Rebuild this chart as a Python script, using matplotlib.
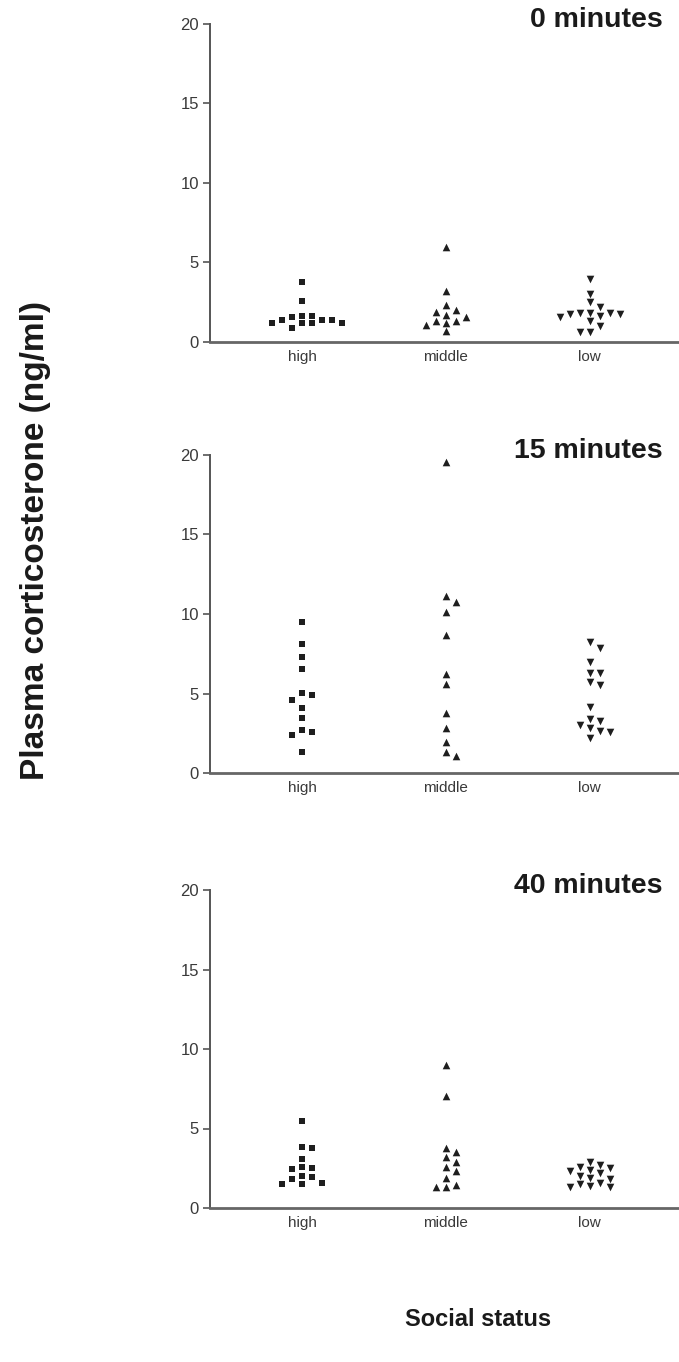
import matplotlib.pyplot as plt
import numpy as np

plt.rcParams['font.family'] = ['Liberation Sans', 'DejaVu Sans']

# Data
groups = ['high', 'middle', 'low']
markers = ['s', '^', 'v']
panel_titles = ['0 minutes', '15 minutes', '40 minutes']

high_0 = [3.75, 2.55, 1.65, 1.65, 1.55, 1.4, 1.4, 1.4, 1.17, 1.17, 1.17, 1.17, 0.9]
middle_0 = [5.95, 3.2, 2.3, 2.0, 1.9, 1.7, 1.55, 1.3, 1.3, 1.2, 1.1, 0.7]
low_0 = [3.95, 3.0, 2.5, 2.2, 1.85, 1.85, 1.85, 1.75, 1.75, 1.65, 1.6, 1.35, 1.0, 0.6, 0.6]

high_15 = [9.5, 8.1, 7.3, 6.55, 5.05, 4.9, 4.6, 4.1, 3.45, 2.7, 2.55, 2.4, 1.3]
middle_15 = [19.55, 11.15, 10.75, 10.1, 8.7, 6.25, 5.6, 3.8, 2.8, 1.95, 1.3, 1.1]
low_15 = [8.25, 7.85, 7.0, 6.3, 6.3, 5.7, 5.55, 4.15, 3.4, 3.3, 3.0, 2.85, 2.65, 2.6, 2.2]

high_40 = [5.45, 3.85, 3.75, 3.1, 2.6, 2.5, 2.45, 2.0, 1.95, 1.85, 1.55, 1.5, 1.5]
middle_40 = [9.0, 7.05, 3.75, 3.5, 3.2, 2.9, 2.55, 2.3, 1.9, 1.45, 1.35, 1.3]
low_40 = [2.9, 2.7, 2.6, 2.5, 2.4, 2.3, 2.2, 2.0, 1.9, 1.8, 1.6, 1.5, 1.4, 1.3, 1.3]

panels = [[high_0, middle_0, low_0],
          [high_15, middle_15, low_15],
          [high_40, middle_40, low_40]]


def column_offsets(values, px_per_y, px_per_x, step=10.0, height=7.5):
    # simple column scatter: spread points sideways when they would overlap
    order = np.argsort(values)[::-1]
    placed = []
    offs = np.zeros(len(values))
    for i in order:
        y = values[i] * px_per_y
        k = 0
        while True:
            cand = 0 if k == 0 else ((k + 1) // 2) * step * (1 if k % 2 else -1)
            if all(abs(cand - px) >= step * 0.9 or abs(y - py) >= height for px, py in placed):
                break
            k += 1
        placed.append((cand, y))
        offs[i] = cand / px_per_x
    return offs


fig = plt.figure(figsize=(6.79, 13.62), dpi=100)
W, H = 679, 1362
left_px = 210
zero_px = [342, 773, 1208]
axh_px = 318

for p, (series, title) in enumerate(zip(panels, panel_titles)):
    ax = fig.add_axes([left_px / W, 1 - zero_px[p] / H, (W - left_px) / W, axh_px / H])
    ax.set_xlim(-0.64, 2.62)
    ax.set_ylim(0, 20)
    px_per_y = axh_px / 20
    px_per_x = (W - left_px) / 3.26
    for g, (vals, m) in enumerate(zip(series, markers)):
        vals = np.array(vals)
        offs = column_offsets(vals, px_per_y, px_per_x)
        size = 22 if m == 's' else 30
        ax.scatter(g + offs, vals, marker=m, s=size, color='#1e1e1e', linewidths=0, zorder=3)
    for s in ['top', 'right']:
        ax.spines[s].set_visible(False)
    ax.spines['left'].set_color('#555555')
    ax.spines['left'].set_linewidth(1.4)
    ax.spines['bottom'].set_color('#666666')
    ax.spines['bottom'].set_linewidth(2.0)
    ax.set_yticks([0, 5, 10, 15, 20])
    ax.set_xticks(range(3))
    ax.set_xticklabels(groups)
    ax.tick_params(axis='y', direction='out', length=5, width=1.2, color='#555555',
                   labelsize=12, labelcolor='#3a3a3a', pad=3)
    ax.tick_params(axis='x', length=0, labelsize=11, labelcolor='#3a3a3a', pad=6)
    ax.text(0.965, 1.012, title, transform=ax.transAxes, ha='right', va='center',
            fontsize=20.5, fontweight='bold', color='#1a1a1a')

fig.text(0.052, 0.6035, 'Plasma corticosterone (ng/ml)', rotation=90, ha='center', va='center',
         fontsize=24, fontweight='bold', color='#1a1a1a')
fig.text(0.704, 0.031, 'Social status', ha='center', va='center',
         fontsize=17, fontweight='bold', color='#1a1a1a')

plt.savefig('out.png', dpi=100)
